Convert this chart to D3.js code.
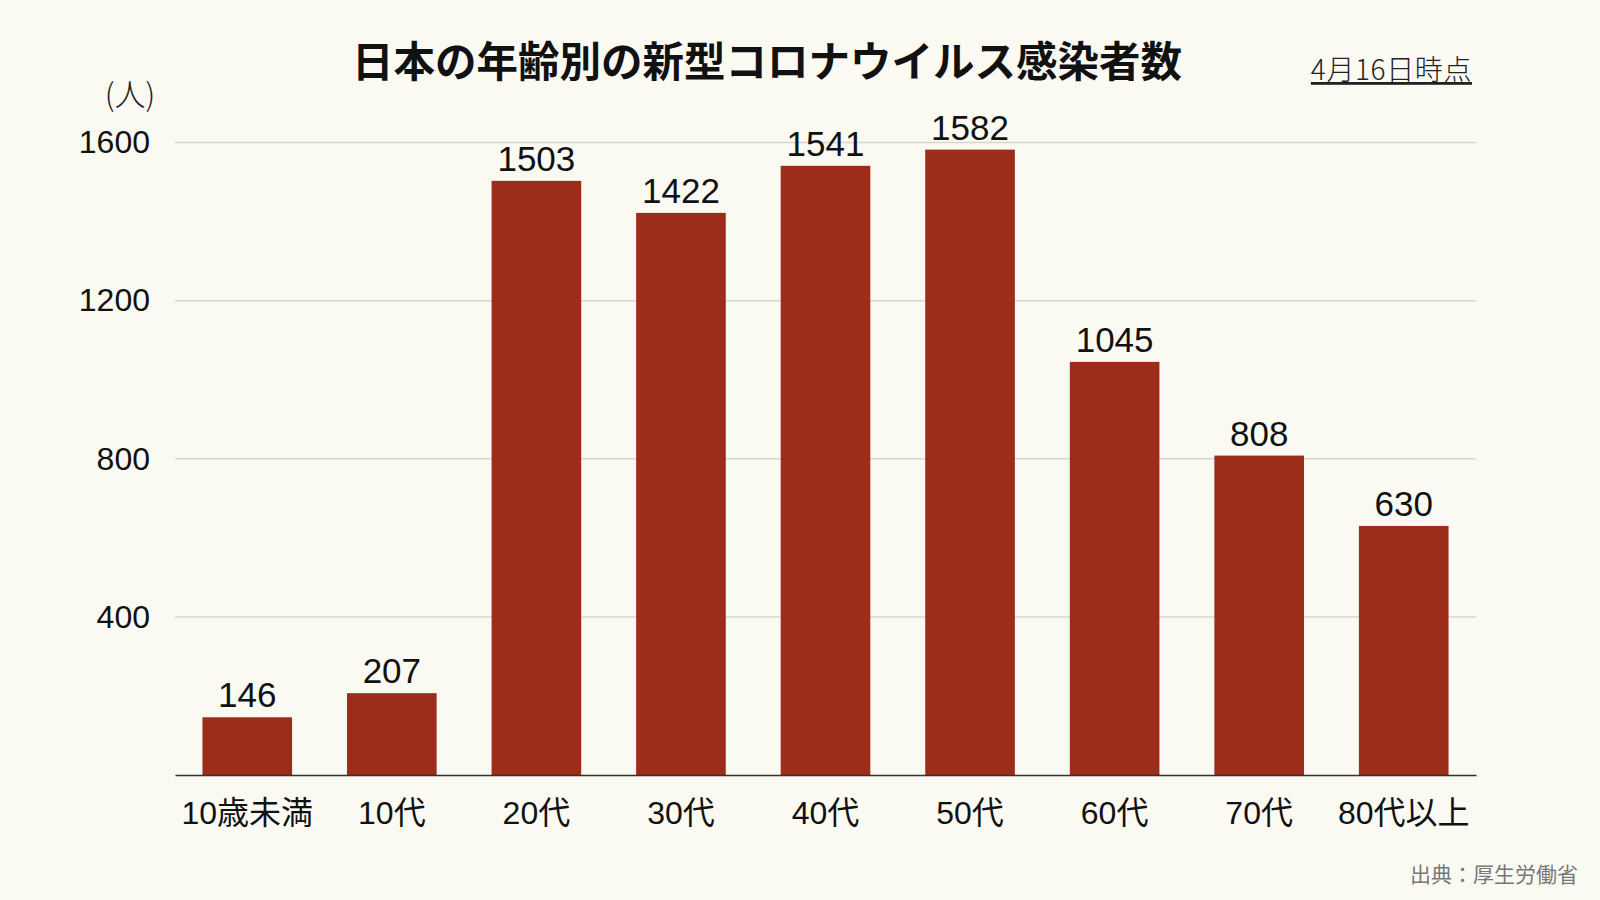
<!DOCTYPE html>
<html>
<head>
<meta charset="utf-8">
<script src="https://cdn.jsdelivr.net/npm/d3@7"></script>
<style>
  body { margin: 0; background: #fafaf3; }
  svg { display: block; }
  .tick text { font-family: "Liberation Sans", "Noto Sans CJK JP", sans-serif; }
</style>
</head>
<body>
<div id="chart"></div>
<script>
// data
var categories = ["10歳未満", "10代", "20代", "30代", "40代", "50代", "60代", "70代", "80代以上"];
var cases = [146, 207, 1503, 1422, 1541, 1582, 1045, 808, 630];
var yTicks = [400, 800, 1200, 1600];

var svgWidth = 1600, svgHeight = 900;
var margin = {top: 142.5, right: 124, bottom: 125, left: 175};
var width = svgWidth - margin.left - margin.right;
var height = svgHeight - margin.top - margin.bottom;

var svg = d3.select("#chart").append("svg")
    .attr("width", svgWidth)
    .attr("height", svgHeight);

svg.append("rect")
    .attr("width", svgWidth)
    .attr("height", svgHeight)
    .attr("fill", "#fafaf3");

var chartGroup = svg.append("g")
    .attr("transform", `translate(${margin.left}, ${margin.top})`);

// scales
var xScale = d3.scaleBand()
    .domain(categories)
    .range([0, width])
    .paddingInner(0.38)
    .paddingOuter(0.19);

var yScale = d3.scaleLinear()
    .domain([0, 1600])
    .range([height, 0]);

// gridlines
chartGroup.append("g")
    .selectAll("line")
    .data(yTicks)
    .enter()
    .append("line")
    .attr("x1", 0)
    .attr("x2", width)
    .attr("y1", d => yScale(d))
    .attr("y2", d => yScale(d))
    .attr("stroke", "#d6d6ce")
    .attr("stroke-width", 1.5);

// y axis labels
var yAxis = chartGroup.append("g")
    .attr("transform", "translate(-25, 0)")
    .call(d3.axisLeft(yScale).tickValues(yTicks).tickFormat(d3.format("d")).tickSize(0).tickPadding(0));
yAxis.select(".domain").remove();
yAxis.selectAll("text")
    .attr("font-size", 32)
    .attr("fill", "#111");

// bars
chartGroup.selectAll(".bar")
    .data(cases)
    .enter()
    .append("rect")
    .attr("class", "bar")
    .attr("x", (d, i) => xScale(categories[i]))
    .attr("width", xScale.bandwidth())
    .attr("y", d => yScale(d))
    .attr("height", d => height - yScale(d))
    .attr("fill", "#9b2d1a");

// value labels
chartGroup.selectAll(".value")
    .data(cases)
    .enter()
    .append("text")
    .attr("class", "value")
    .attr("x", (d, i) => xScale(categories[i]) + xScale.bandwidth() / 2)
    .attr("y", d => yScale(d) - 10)
    .attr("text-anchor", "middle")
    .attr("font-family", "Liberation Sans, sans-serif")
    .attr("font-size", 35)
    .attr("fill", "#111")
    .text(d => d);

// x axis
var xAxis = chartGroup.append("g")
    .attr("transform", `translate(0, ${height})`)
    .call(d3.axisBottom(xScale).tickSize(0).tickPadding(26));
xAxis.select(".domain")
    .attr("stroke", "#333")
    .attr("stroke-width", 1.5);
xAxis.selectAll("text")
    .attr("font-size", 32)
    .attr("fill", "#111");

// title
svg.append("text")
    .attr("x", 767)
    .attr("y", 77)
    .attr("text-anchor", "middle")
    .attr("font-family", "Noto Sans CJK JP, sans-serif")
    .attr("font-weight", 700)
    .attr("font-size", 41.5)
    .attr("fill", "#111")
    .text("日本の年齢別の新型コロナウイルス感染者数");

// unit
svg.append("text")
    .attr("x", 130)
    .attr("y", 106)
    .attr("text-anchor", "middle")
    .attr("font-family", "Noto Sans CJK JP, sans-serif")
    .attr("font-weight", 300)
    .attr("font-size", 31)
    .attr("fill", "#222")
    .text("(人)");

// date note
svg.append("text")
    .attr("x", 1472)
    .attr("y", 80)
    .attr("text-anchor", "end")
    .attr("font-family", "Noto Sans CJK JP, sans-serif")
    .attr("font-weight", 300)
    .attr("font-size", 28)
    .attr("letter-spacing", 0.6)
    .attr("fill", "#222")
    .attr("text-decoration", "underline")
    .text("4月16日時点");

// source
svg.append("text")
    .attr("x", 1578)
    .attr("y", 882)
    .attr("text-anchor", "end")
    .attr("font-family", "Noto Sans CJK JP, sans-serif")
    .attr("font-weight", 400)
    .attr("font-size", 21)
    .attr("fill", "#777")
    .text("出典：厚生労働省");
</script>
</body>
</html>
